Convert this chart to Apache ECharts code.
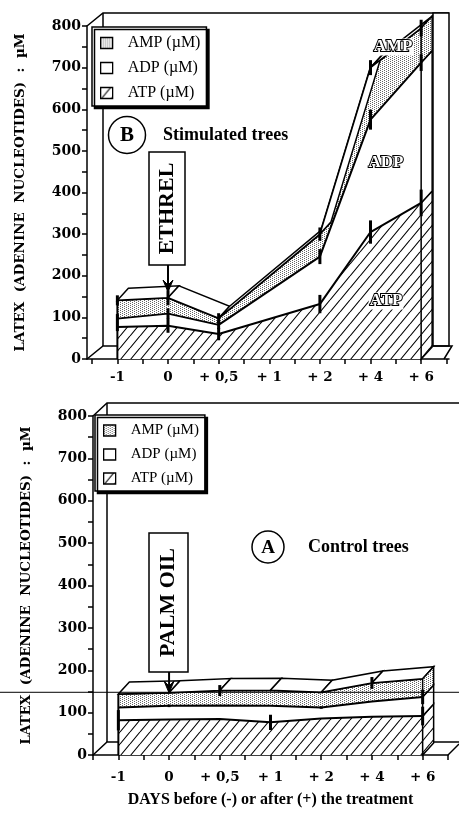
<!DOCTYPE html>
<html>
<head>
<meta charset="utf-8">
<script src="https://cdn.jsdelivr.net/npm/echarts@6/dist/echarts.min.js"></script>
<style>
html, body { margin: 0; padding: 0; background: #fff; }
#main { width: 459px; height: 814px; }
</style>
</head>
<body>
<div id="main"></div>
<script>
// days before (-) / after (+) the treatment, one slot per reading
var days = ['-1', '0', '+ 0,5', '+ 1', '+ 2', '+ 4', '+ 6'];

// B : stimulated trees (ETHREL), µM, stacked ATP + ADP + AMP ; no reading at +1
var atpB = [77, 80, 60, null, 132, 305, 375];
var adpB = [20, 29, 22, null, 114, 270, 337];
var ampB = [44, 38, 16, null, 54, 125, 83];
var atpErrB = [10, 17, 15, null, 22, 28, 32];
var adpErrB = [11, 13, 10, null, 18, 24, 20];
var ampErrB = [12, 18, 12, null, 16, 18, 20];

// A : control trees (PALM OIL)
var atpA = [82, 84, 85, 77, 86, 90, 92];
var adpA = [30, 32, 32, 39, 26, 36, 45];
var ampA = [32, 31, 35, 37, 36, 44, 43];
var atpErrA = [24, null, null, 18, null, null, 22];
var adpErrA = [null, 3, null, null, 3, null, 17];
var ampErrA = [null, null, 13, null, null, 14, null];
var refLineA = 148;

var names = ['ATP (µM)', 'ADP (µM)', 'AMP (µM)'];
var DX = 11, DY = -12;   // depth of the 3d top face

function hatch() {
    var c = document.createElement('canvas');
    c.width = 10; c.height = 12;
    var g = c.getContext('2d');
    g.fillStyle = '#fff'; g.fillRect(0, 0, 10, 12);
    g.strokeStyle = '#000'; g.lineWidth = 1.1;
    g.beginPath();
    g.moveTo(0, 12); g.lineTo(10, 0);
    g.moveTo(-10, 12); g.lineTo(0, 0);
    g.moveTo(10, 12); g.lineTo(20, 0);
    g.stroke();
    return c;
}
function dots() {
    var c = document.createElement('canvas');
    c.width = 4; c.height = 4;
    var g = c.getContext('2d');
    g.fillStyle = '#fff'; g.fillRect(0, 0, 4, 4);
    g.fillStyle = '#666';
    [[0, 0], [2, 1], [0, 2], [2, 3]].forEach(function (p) { g.fillRect(p[0], p[1], 1, 1); });
    return c;
}
var fills = [
    { image: hatch(), repeat: 'repeat' },
    '#fff',
    { image: dots(), repeat: 'repeat' }
];

var serif = 'Liberation Serif';
var wide = 'DejaVu Serif';

function tops(parts) {
    // cumulative top of each stacked layer
    var out = [];
    var run = days.map(function () { return 0; });
    parts.forEach(function (arr) {
        run = run.map(function (r, i) { return arr[i] == null || r == null ? null : r + arr[i]; });
        out.push(run.slice());
    });
    return out;
}

function panelSeries(g, parts, errs) {
    var list = [];
    var cum = tops(parts);
    // each layer is filled from its top down to 0, the higher layers first
    [2, 1, 0].forEach(function (k) {
        list.push({
            type: 'line', name: names[k], xAxisIndex: g, yAxisIndex: g,
            connectNulls: true, symbol: 'none', z: 2,
            lineStyle: { color: '#000', width: 2 },
            areaStyle: { color: fills[k], opacity: 1, origin: 'start' },
            data: cum[k].map(function (v, i) { return [i, v]; })
        });
    });
    // top face
    var total = cum[2];
    var pts = [];
    total.forEach(function (v, i) { if (v != null) pts.push(i); });
    var segs = [];
    for (var s = 0; s < pts.length - 1; s++) {
        segs.push([pts[s], total[pts[s]], pts[s + 1], total[pts[s + 1]]]);
    }
    list.push({
        type: 'custom', xAxisIndex: g, yAxisIndex: g, z: 3, clip: false, silent: true,
        encode: { x: 0, y: 1 },
        renderItem: function (params, api) {
            var a = api.coord([api.value(0), api.value(1)]);
            var b = api.coord([api.value(2), api.value(3)]);
            return {
                type: 'polygon',
                shape: { points: [a, b, [b[0] + DX, b[1] + DY], [a[0] + DX, a[1] + DY]] },
                style: { fill: '#fff', stroke: '#000', lineWidth: 1.5 }
            };
        },
        data: segs
    });
    // right side face at the last day, left edge at the first day
    var last = days.length - 1;
    var side = [];
    for (var k = 0; k < 3; k++) {
        side.push([last, k === 0 ? 0 : cum[k - 1][last], cum[k][last], k]);
    }
    side.push([0, 0, total[0], -1]);
    list.push({
        type: 'custom', xAxisIndex: g, yAxisIndex: g, z: 3, clip: false, silent: true,
        encode: { x: 0, y: 2 },
        renderItem: function (params, api) {
            var lo = api.coord([api.value(0), api.value(1)]);
            var hi = api.coord([api.value(0), api.value(2)]);
            var k = api.value(3);
            if (k < 0) {
                return { type: 'line', shape: { x1: lo[0], y1: lo[1], x2: hi[0], y2: hi[1] },
                    style: { stroke: '#000', lineWidth: 2 } };
            }
            return {
                type: 'polygon',
                shape: { points: [lo, hi, [hi[0] + DX, hi[1] + DY], [lo[0] + DX, lo[1] + DY]] },
                style: { fill: fills[k], stroke: '#000', lineWidth: 1.5 }
            };
        },
        data: side
    });
    // error bars
    var bars = [];
    errs.forEach(function (e, k) {
        e.forEach(function (h, i) {
            if (h != null && cum[k][i] != null) bars.push([i, cum[k][i] - h, cum[k][i] + h]);
        });
    });
    list.push({
        type: 'custom', xAxisIndex: g, yAxisIndex: g, z: 4, clip: false, silent: true,
        encode: { x: 0, y: 1 },
        renderItem: function (params, api) {
            var lo = api.coord([api.value(0), api.value(1)]);
            var hi = api.coord([api.value(0), api.value(2)]);
            return { type: 'line', shape: { x1: lo[0], y1: lo[1], x2: hi[0], y2: hi[1] },
                style: { stroke: '#000', lineWidth: 3 } };
        },
        data: bars
    });
    return list;
}

function xAxis(g, min, max, margin, name) {
    var ticks = [];
    for (var t = -0.5; t <= 6.5; t += 0.5) ticks.push(t);
    return {
        gridIndex: g, type: 'value', min: min, max: max,
        axisLine: { onZero: false, lineStyle: { color: '#000', width: 1.5 } },
        axisTick: { customValues: ticks, length: 5, lineStyle: { color: '#000', width: 1.5 } },
        axisLabel: {
            customValues: days.map(function (d, i) { return i; }),
            formatter: function (v) { return days[Math.round(v)]; },
            margin: margin, color: '#000', fontFamily: wide, fontWeight: 'bold', fontSize: 13.5
        },
        splitLine: { show: false },
        name: name, nameLocation: 'middle', nameGap: 37,
        nameTextStyle: { color: '#000', fontFamily: serif, fontWeight: 'bold', fontSize: 16 }
    };
}
function yAxis(g) {
    return {
        gridIndex: g, type: 'value', min: 0, max: 800, interval: 100,
        axisLine: { show: true, onZero: false, lineStyle: { color: '#000', width: 1.5 } },
        axisTick: { show: true, length: 5, lineStyle: { color: '#000', width: 1.5 } },
        minorTick: { show: true, splitNumber: 2, length: 5, lineStyle: { color: '#000', width: 1.5 } },
        splitLine: { show: false },
        axisLabel: { margin: 6, color: '#000', fontFamily: wide, fontWeight: 'bold', fontSize: 14 },
        name: 'LATEX  (ADENINE  NUCLEOTIDES)  :  µM', nameLocation: 'middle', nameRotate: 90, nameGap: 60,
        nameTextStyle: { color: '#000', fontFamily: wide, fontWeight: 'bold', fontSize: 13.5 }
    };
}
function legend(left, top, size) {
    return {
        left: left, top: top, orient: 'vertical', selectedMode: false,
        itemWidth: 12, itemHeight: 11, itemGap: 9, padding: [8, 6, 5, 8],
        backgroundColor: '#fff', borderColor: '#000', borderWidth: 1.5, borderRadius: 0,
        shadowColor: '#000', shadowBlur: 0, shadowOffsetX: 2.5, shadowOffsetY: 2.5,
        textStyle: { color: '#000', fontFamily: serif, fontSize: size, padding: [0, 0, 0, 10] },
        data: [2, 1, 0].map(function (k) {
            return { name: names[k], icon: 'rect',
                itemStyle: { color: fills[k], borderColor: '#000', borderWidth: 1.3 } };
        })
    };
}

var gridB = { left: 87, top: 26, width: 362, height: 333 };
var gridA = { left: 93, top: 416, width: 355, height: 339 };

var chart = echarts.init(document.getElementById('main'));
var option = {
    backgroundColor: '#fff',
    animation: false,
    grid: [gridB, gridA],
    xAxis: [xAxis(0, -0.6, 6.55, 11, ''), xAxis(1, -0.5, 6.5, 15, 'DAYS before (-) or after (+) the treatment')],
    yAxis: [yAxis(0), yAxis(1)],
    legend: [legend(92, 27, 16), legend(95, 415, 15)],
    series: panelSeries(0, [atpB, adpB, ampB], [atpErrB, adpErrB, ampErrB])
        .concat(panelSeries(1, [atpA, adpA, ampA], [atpErrA, adpErrA, ampErrA]))
};
chart.setOption(option);

// walls, notes and arrows
function px(g, p) { return chart.convertToPixel({ gridIndex: g }, p); }
function poly(points, w) {
    return { type: 'polyline', z: 1, shape: { points: points }, style: { stroke: '#000', lineWidth: w || 1.5, fill: null } };
}
function note(text, x, y, size, extra) {
    var s = { text: text, x: x, y: y, font: 'bold ' + size + 'px "' + serif + '"', fill: '#000',
        align: 'left', verticalAlign: 'middle' };
    for (var key in extra) s[key] = extra[key];
    return { type: 'text', z: 120, style: s };
}
function badge(letter, cx, cy, r, size) {
    return [
        { type: 'circle', z: 120, shape: { cx: cx, cy: cy, r: r }, style: { fill: '#fff', stroke: '#000', lineWidth: 1.5 } },
        note(letter, cx, cy + 1, size, { align: 'center' })
    ];
}
function tag(text, g, day, x0, y0, x1, y1, arrowTo) {
    var ax = px(g, [day, 0])[0];
    return [
        { type: 'rect', z: 120, shape: { x: x0, y: y0, width: x1 - x0, height: y1 - y0 },
            style: { fill: '#fff', stroke: '#000', lineWidth: 1.5 } },
        { type: 'text', z: 121, x: (x0 + x1) / 2, y: (y0 + y1) / 2, rotation: Math.PI / 2,
            style: { text: text, font: 'bold 22px "' + serif + '"', fill: '#000', align: 'center', verticalAlign: 'middle' } },
        { type: 'line', z: 121, shape: { x1: ax, y1: y1, x2: ax, y2: arrowTo - 2 }, style: { stroke: '#000', lineWidth: 2 } },
        { type: 'polygon', z: 121, shape: { points: [[ax - 5, arrowTo - 12], [ax, arrowTo], [ax + 5, arrowTo - 12], [ax, arrowTo - 7]] },
            style: { fill: '#000', stroke: '#000', lineWidth: 1 } }
    ];
}

var b0 = px(0, [-0.6, 800]), b1 = px(0, [6.55, 0]);
var a0 = px(1, [-0.5, 800]), a1 = px(1, [6.5, 0]);
var firstB = px(0, [0, 0])[0], firstA = px(1, [0, 0])[0], lastA = px(1, [6, 0])[0];
var refY = px(1, [0, refLineA])[1];
var outline = { align: 'center', fill: '#fff', stroke: '#000', lineWidth: 2, backgroundColor: '#fff', padding: [0, 1] };

var elements = [
    // back walls of B
    poly([[b0[0], b0[1]], [b0[0] + 16, b0[1] - 13], [b1[0], b0[1] - 13]]),
    poly([[b0[0] + 16, b0[1] - 13], [b0[0] + 16, b1[1] - 13]]),
    poly([[b0[0], b1[1]], [b0[0] + 16, b1[1] - 13], [firstB, b1[1] - 13]]),
    { type: 'rect', z: 1, shape: { x: b1[0] - 16, y: b0[1] - 13, width: 16, height: b1[1] - b0[1] },
        style: { fill: '#fff', stroke: '#000', lineWidth: 1.5 } },
    poly([[b1[0] - 16, b1[1] - 13], [b1[0] + 3, b1[1] - 13], [b1[0] - 5, b1[1]]]),
    // back walls of A
    poly([[a0[0], a0[1]], [a0[0] + 14, a0[1] - 13], [459, a0[1] - 13]]),
    poly([[a0[0] + 14, a0[1] - 13], [a0[0] + 14, a1[1] - 13]]),
    poly([[a0[0], a1[1]], [a0[0] + 14, a1[1] - 13], [firstA, a1[1] - 13]]),
    poly([[lastA + DX, a1[1] - 13], [459, a1[1] - 13]]),
    poly([[a1[0], a1[1]], [459, a1[1] - 11]]),
    { type: 'line', z: 110, shape: { x1: 0, y1: refY, x2: 459, y2: refY }, style: { stroke: '#000', lineWidth: 1 } },
    // series names inside B
    note('AMP', 393, 47, 17, outline),
    note('ADP', 386, 163, 17, outline),
    note('ATP', 386, 301, 17, outline),
    note('Stimulated trees', 163, 135, 18),
    note('Control trees', 308, 547, 18)
].concat(badge('B', 127, 135, 18.5, 21))
 .concat(badge('A', 268, 547, 16, 19))
 .concat(tag('ETHREL', 0, 1, 149, 152, 185, 265, 292))
 .concat(tag('PALM OIL', 1, 1, 149, 533, 188, 672, 693));

chart.setOption({ graphic: { elements: elements } });
</script>
</body>
</html>
